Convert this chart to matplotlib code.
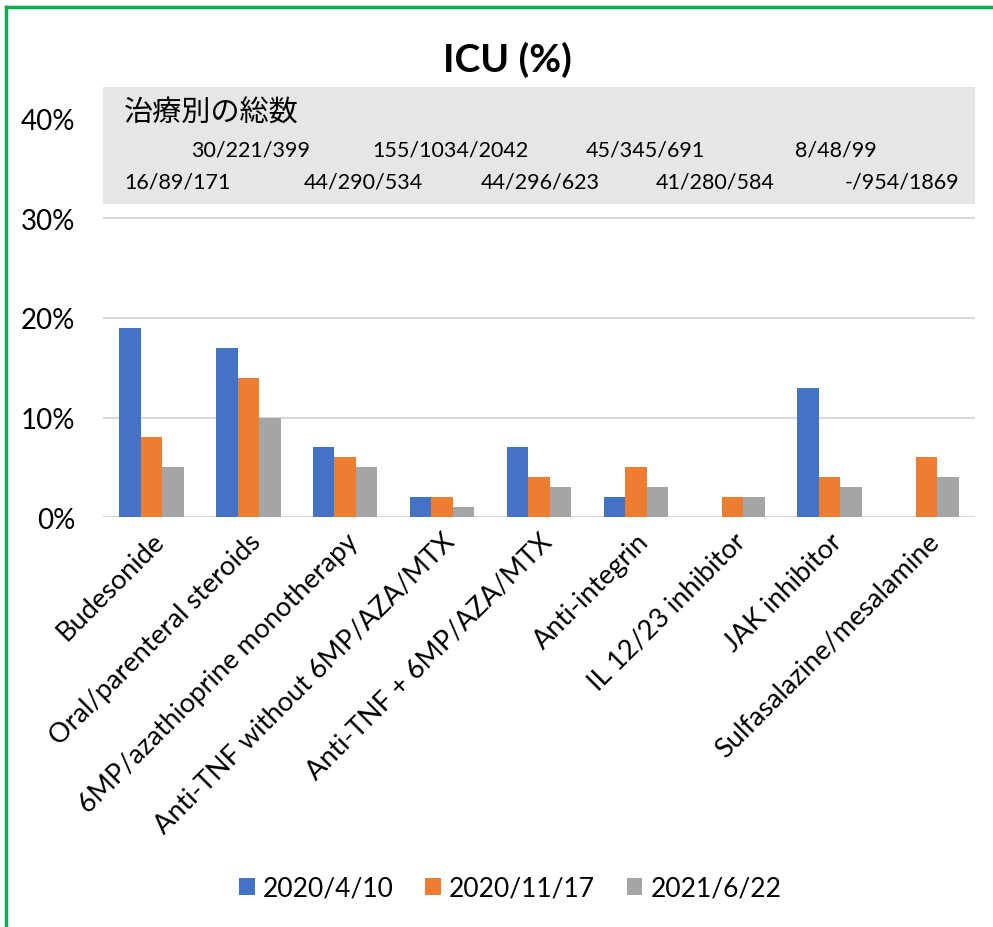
import numpy as np
import matplotlib.pyplot as plt
from matplotlib.patches import Rectangle
from matplotlib.ticker import PercentFormatter

plt.rcParams['font.family'] = ['Lato', 'Noto Sans CJK JP', 'DejaVu Sans']

categories = ["Budesonide", "Oral/parenteral steroids", "6MP/azathioprine monotherapy",
              "Anti-TNF without 6MP/AZA/MTX", "Anti-TNF + 6MP/AZA/MTX", "Anti-integrin",
              "IL 12/23 inhibitor", "JAK inhibitor", "Sulfasalazine/mesalamine"]
series_names = ["2020/4/10", "2020/11/17", "2021/6/22"]
icu_2020_04 = [19, 17, 7, 2, 7, 2, np.nan, 13, np.nan]
icu_2020_11 = [8, 14, 6, 2, 4, 5, 2, 4, 6]
icu_2021_06 = [5, 10, 5, 1, 3, 3, 2, 3, 4]
totals = ["16/89/171", "30/221/399", "44/290/534", "155/1034/2042", "44/296/623",
          "45/345/691", "41/280/584", "8/48/99", "-/954/1869"]
colors = ["#4472C4", "#ED7D31", "#A5A5A5"]

# the totals sit in a hand-typed text box, so they are not exactly centred
totals_nudge = [0.27, 0.02, 0.19, 0.09, 0.01, 0.10, -0.18, 0.07, -0.25]

fig = plt.figure(figsize=(9.93, 9.28), dpi=100)
ax = fig.add_axes([0.1037, 0.4418, 0.878, 0.4289])

x = np.arange(len(categories))
w = 0.222
for i, vals in enumerate([icu_2020_04, icu_2020_11, icu_2021_06]):
    ax.bar(x + (i - 1) * w, vals, width=w, color=colors[i], label=series_names[i], zorder=3)

ax.set_xlim(-0.5, len(categories) - 0.5)
ax.set_ylim(0, 40)
ax.set_yticks([0, 10, 20, 30, 40])
ax.yaxis.set_major_formatter(PercentFormatter(decimals=0))
ax.grid(axis='y', color='#D9D9D9', linewidth=1.5, zorder=0)
for s in ax.spines.values():
    s.set_visible(False)
ax.tick_params(axis='y', length=0, labelsize=20, pad=20)
ax.tick_params(axis='x', length=0, pad=8)
ax.set_xticks(x)
ax.set_xticklabels(categories, rotation=45, ha='right', rotation_mode='anchor', fontsize=19.5)

# gray annotation box with totals per treatment
ax.add_patch(Rectangle((0.1037, 0.779), 0.878, 0.126, transform=fig.transFigure,
                       facecolor='#E6E6E6', edgecolor='none', zorder=5, clip_on=False))
fig.text(0.125, 0.878, "治療別の総数", fontsize=21, va='center', zorder=6)
trans = ax.get_xaxis_transform()
for i, t in enumerate(totals):
    yy = 0.843 if i % 2 == 0 else 0.923
    ax.text(x[i] + totals_nudge[i], yy, t, transform=trans, ha='center', va='center',
            fontsize=15.5, zorder=6, clip_on=False)

fig.text(0.511, 0.935, "ICU (%)", fontsize=28, fontweight='bold', ha='center', va='center')

ax.legend(loc='center', bbox_to_anchor=(0.467, -0.932), ncol=3, frameon=False,
          fontsize=19, handlelength=0.6, handleheight=0.6, columnspacing=1.2, handletextpad=0.3)

# green frame (top and left edges)
fig.add_artist(plt.Line2D([0.0065, 1.0], [0.9915, 0.9915], color='#00B050', linewidth=2.5))
fig.add_artist(plt.Line2D([0.0065, 0.0065], [0.0, 0.9915], color='#00B050', linewidth=2.5))

fig.savefig("out.png", dpi=100)
